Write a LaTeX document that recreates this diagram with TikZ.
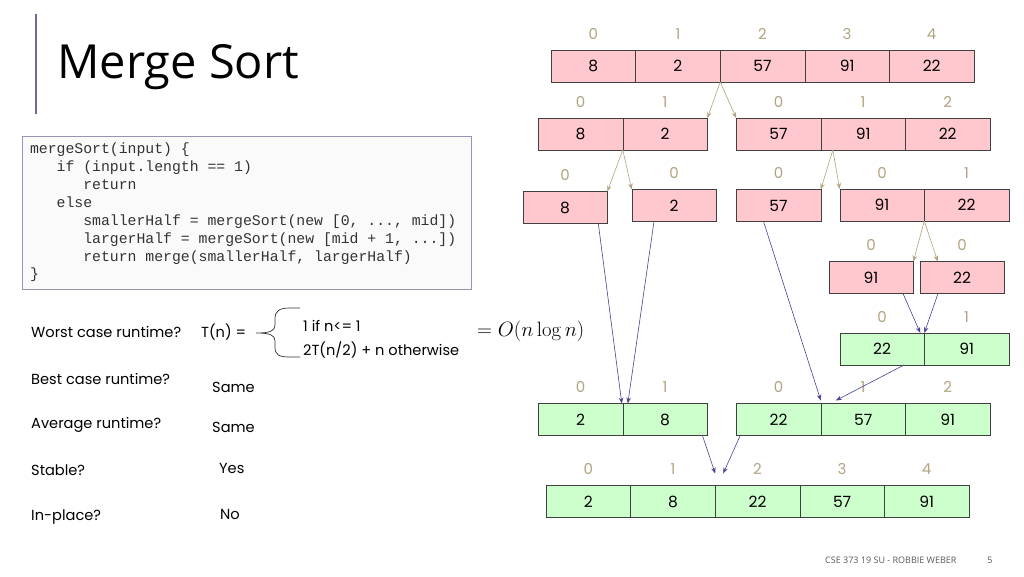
\documentclass[tikz,border=0pt]{standalone}
\usepackage[no-math]{fontspec}
\setmainfont{Poppins}
\setmonofont{Liberation Mono}
\newfontfamily\titlefont{Open Sans}
\usetikzlibrary{arrows.meta}
\definecolor{cellpink}{RGB}{255,199,206}
\definecolor{cellgreen}{RGB}{204,255,204}
\definecolor{idxtan}{RGB}{176,164,128}
\definecolor{mergeblue}{RGB}{75,65,150}
\definecolor{barcolor}{RGB}{110,105,150}
\definecolor{codeframe}{RGB}{150,150,178}
\newcommand{\codespacing}{\frenchspacing\spaceskip=8.88pt\relax}
\tikzset{   pinkcell/.style = {rectangle, draw = black!75, fill = cellpink, minimum width = 84.6pt, minimum height = 32pt, inner sep = 0pt, outer sep = 0pt, text height = 11pt, text depth = 0pt, font = \fontsize{15.5}{15.5}\selectfont},
            greencell/.style = {pinkcell, fill = cellgreen},
            idx/.style = {text = idxtan, inner sep = 0pt, text height = 10.5pt, text depth = 0pt, font = \fontsize{15}{15}\selectfont},
            splitline/.style = {->, draw = idxtan, line width = 0.6pt},
            mergeline/.style = {->, draw = mergeblue, line width = 0.6pt},
            plain/.style = {anchor = west, inner sep = 0pt, font = \fontsize{14.6}{14.6}\selectfont}}

\begin{document}
\begin{tikzpicture}[x=1pt, y=-1pt, >={Stealth[length=6pt, width=4.5pt]}]
                        \fill[white] (0,0) rectangle (1024,576);
                        \useasboundingbox (0,0) rectangle (1024,576);
                        \draw[barcolor, line width = 1.6pt] (36,14) -- (36,114);
                        \node[anchor = base west, inner sep = 0pt, font = \titlefont\fontsize{47}{47}\selectfont] (title) at (57,78) {Merge Sort};

                        \node[rectangle, draw = codeframe, fill = black!2, minimum width = 449pt, minimum height = 153pt, text width = 433pt, align = left, inner sep = 0pt, text = black!80, font = \ttfamily\fontsize{14.8}{17.9}\selectfont] (code) at (246.5,212.5)
                          {\codespacing mergeSort(input) \{\\
                           \phantom{xxx}if (input.length == 1)\\
                           \phantom{xxxxxx}return\\
                           \phantom{xxx}else\\
                           \phantom{xxxxxx}smallerHalf = mergeSort(new [0, ..., mid])\\
                           \phantom{xxxxxx}largerHalf = mergeSort(new [mid + 1, ...])\\
                           \phantom{xxxxxx}return merge(smallerHalf, largerHalf)\\
                           \}};

                        \node[plain] (worst) at (31,332) {Worst case runtime?};
                        \node[plain] (tn) at (201,332) {T(n) =};
                        \draw[black!80, line width = 0.7pt] (300,308) -- (290,308) .. controls (279,308) and (275,311) .. (275,319) -- (275,325) .. controls (275,331) and (270,333) .. (256,333)
                                                       .. controls (270,333) and (275,335) .. (275,341) -- (275,347) .. controls (275,355) and (279,357) .. (290,357) -- (300,357);
                        \node[plain] (base) at (303,326) {1 if n<= 1};
                        \node[plain] (rec) at (303,350) {2T(n/2) + n otherwise};
                        \node[plain, font = \fontsize{19.5}{19.5}\selectfont] (bigo) at (477,331) {$= O(n\log n)$};
                        \node[plain] (best) at (31,379) {Best case runtime?};
                        \node[plain] (bestans) at (212,387) {Same};
                        \node[plain] (avg) at (31,425) {Average runtime?};
                        \node[plain] (avgans) at (212,427) {Same};
                        \node[plain] (stable) at (31,470) {Stable?};
                        \node[plain] (stableans) at (219,468) {Yes};
                        \node[plain] (inplace) at (31,517) {In-place?};
                        \node[plain] (inplaceans) at (220,514) {No};

                        \foreach \v [count=\i from 0] in {8,2,57,91,22}
                          \node[pinkcell] (a\i) at (593.3+84.6*\i,66) {\v};
                        \foreach \v [count=\i from 0] in {8,2}
                          \node[pinkcell] (bl\i) at (580.5+84.6*\i,134) {\v};
                        \foreach \v [count=\i from 0] in {57,91,22}
                          \node[pinkcell] (br\i) at (778.5+84.6*\i,134) {\v};
                        \node[pinkcell] (cA) at (565,207.5) {8};
                        \node[pinkcell] (cB) at (674,205.5) {2};
                        \node[pinkcell] (cC) at (778.5,205.5) {57};
                        \node[pinkcell] (cD0) at (882,205) {91};
                        \node[pinkcell] (cD1) at (966.6,205) {22};
                        \node[pinkcell] (d0) at (871,277.5) {91};
                        \node[pinkcell] (d1) at (962,277.5) {22};
                        \node[greencell] (e0) at (882,349) {22};
                        \node[greencell] (e1) at (966.6,349) {91};
                        \foreach \v [count=\i from 0] in {2,8}
                          \node[greencell] (fl\i) at (580.5+84.6*\i,419.5) {\v};
                        \foreach \v [count=\i from 0] in {22,57,91}
                          \node[greencell] (fr\i) at (778.5+84.6*\i,419.5) {\v};
                        \foreach \v [count=\i from 0] in {2,8,22,57,91}
                          \node[greencell] (g\i) at (588.3+84.6*\i,501.5) {\v};

                        \foreach \n/\t in {a0/0,a1/1,a2/2,a3/3,a4/4,bl0/0,bl1/1,br0/0,br1/1,br2/2,cA/0,cB/0,cC/0,cD0/0,cD1/1,d0/0,d1/0,e0/0,e1/1,fl0/0,fl1/1,fr0/0,fr1/1,fr2/2,g0/0,g1/1,g2/2,g3/3,g4/4}
                          \node[idx] at ([yshift=16pt]\n.north) {\t};

                        \draw[splitline] (a1.south east) -- (bl1.north east);
                        \draw[splitline] (a1.south east) -- (br0.north west);
                        \draw[splitline] (bl0.south east) -- (cA.north east);
                        \draw[splitline] (bl0.south east) -- (cB.north west);
                        \draw[splitline] ([xshift=12pt]br1.south west) -- (cC.north east);
                        \draw[splitline] ([xshift=12pt]br1.south west) -- (cD0.north west);
                        \draw[splitline] (cD0.south east) -- (d0.north east);
                        \draw[splitline] (cD0.south east) -- ([xshift=18pt]d1.north west);

                        \draw[mergeline] ([xshift=-9pt]cA.south east) -- ([xshift=-1pt]fl0.north east);
                        \draw[mergeline] ([xshift=-20pt]cB.south) -- ([xshift=5pt]fl0.north east);
                        \draw[mergeline] ([xshift=-15pt]cC.south) -- ([yshift=3pt]fr0.north east);
                        \draw[mergeline] ([xshift=32pt]d0.south) -- ([xshift=-4pt]e0.north east);
                        \draw[mergeline] ([xshift=-24pt]d1.south) -- (e0.north east);
                        \draw[mergeline] ([xshift=22pt]e0.south) -- ([xshift=15pt, yshift=3pt]fr1.north west);
                        \draw[mergeline] ([xshift=-5pt]fl1.south east) -- ([yshift=12pt]g2.north west);
                        \draw[mergeline] ([xshift=4pt]fr0.south west) -- ([xshift=8pt, yshift=12pt]g2.north west);

                        \node[anchor = west, inner sep = 0pt, text = black!65, font = \titlefont\fontsize{9}{9}\selectfont] (footer) at (825,560) {CSE 373 19 SU - ROBBIE WEBER};
                        \node[inner sep = 0pt, text = black!65, font = \titlefont\fontsize{9}{9}\selectfont] (pagenum) at (990,560) {5};
                      \end{tikzpicture}
\end{document}
